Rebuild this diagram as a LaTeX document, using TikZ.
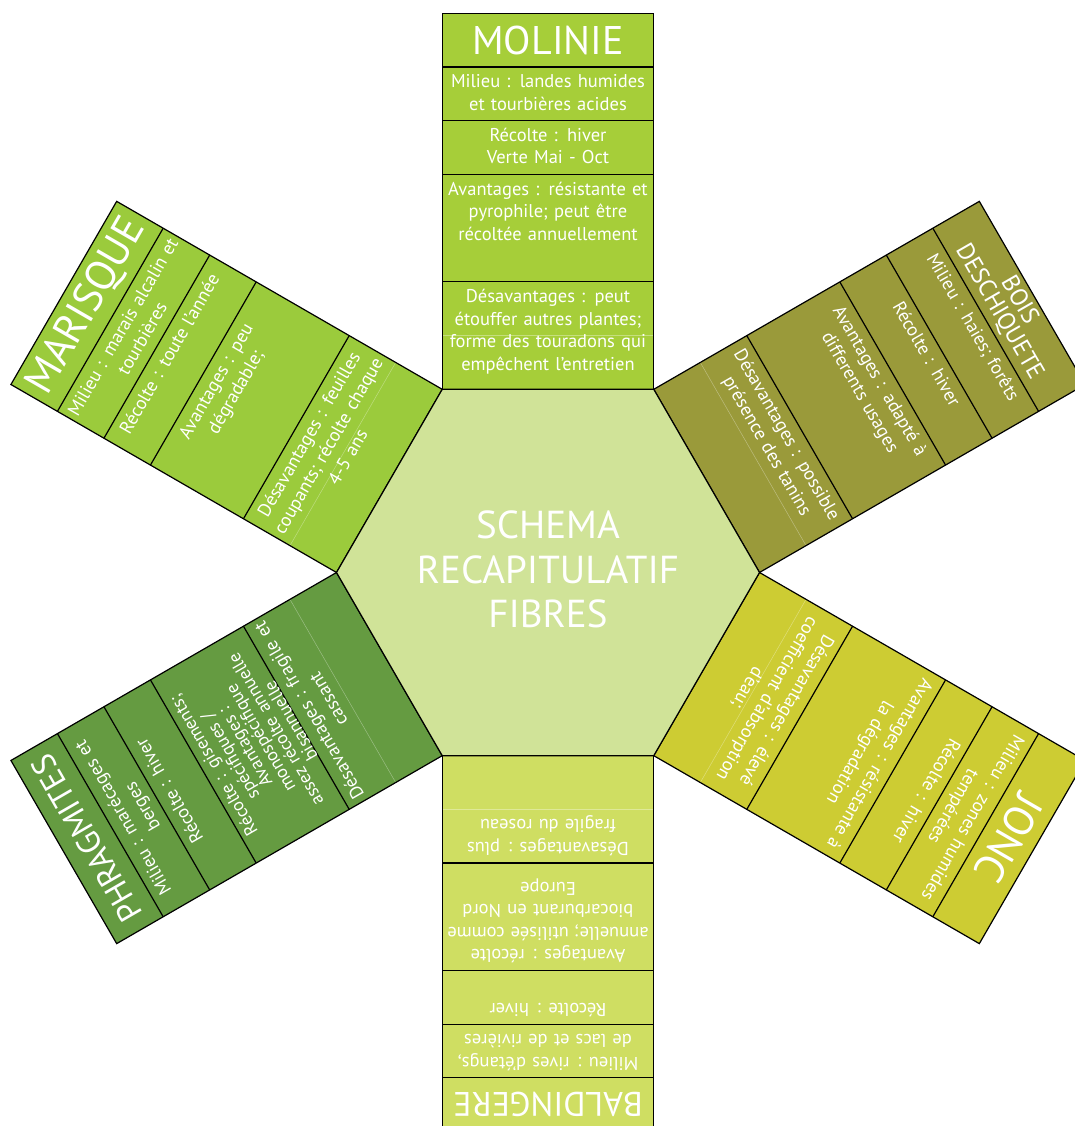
\documentclass[tikz,border=0pt]{standalone}
\usepackage{fontspec}
\setmainfont{PT Sans}
\definecolor{cMol}{RGB}{166,206,57}
\definecolor{cMar}{RGB}{155,203,60}
\definecolor{cBois}{RGB}{154,154,58}
\definecolor{cJonc}{RGB}{205,204,51}
\definecolor{cBald}{RGB}{207,222,98}
\definecolor{cPhra}{RGB}{101,155,65}
\definecolor{cHex}{RGB}{208,227,152}
\newcommand{\avfont}{\fontsize{18.5}{22.5}\selectfont}
% #1 angle, #2 colour, #3 name, #4 header font, #5 header, #6 milieu, #7 recolte, #8 avantages, #9 desavantages
\newcommand{\fibrearm}[9]{%
\begin{scope}[shift={(548,553.5)},rotate=#1]
  \fill[#2] (-105.75,183.2) rectangle (105.75,559.1);
  \draw[faint] (-105.75,236.9) -- (105.75,236.9);
  \draw[armline] (-105.75,290.6) -- (105.75,290.6);
  \draw[armline] (-105.75,398) -- (105.75,398);
  \draw[armline] (-105.75,451.7) -- (105.75,451.7);
  \draw[armline] (-105.75,505.4) -- (105.75,505.4);
  \draw[armline] (-105.75,183.2) rectangle (105.75,559.1);
  \node[hdr,font=#4] (#3-h) at (0,532.25) {#5};
  \node[body] (#3-m) at (0,500.65) {\strut #6};
  \node[body] (#3-r) at (0,446.95) {\strut #7};
  \node[body,font=\avfont] (#3-a) at (0,393.25) {\strut #8};
  \node[body] (#3-d) at (0,285.85) {\strut #9};
\end{scope}}
\begin{document}
\begin{tikzpicture}[x=1pt,y=1pt,
  armline/.style={draw=black,line width=1.2pt},
  faint/.style={draw=white,opacity=0.35,line width=0.5pt},
  body/.style={text=white,align=center,text width=209pt,inner sep=0pt,anchor=north,transform shape,font=\fontsize{18.5}{22.5}\selectfont},
  hdr/.style={text=white,align=center,inner sep=0pt,anchor=center,transform shape}]
\useasboundingbox (0,0) rectangle (1075,1126);
\fill[white] (0,0) rectangle (1075,1126);

\fibrearm{0}{cMol}{mol}{\fontsize{40}{44}\selectfont}{MOLINIE}
  {Milieu : landes humides\\et tourbières acides}
  {Récolte : hiver\\Verte Mai - Oct}
  {Avantages : résistante et\\pyrophile; peut être\\récoltée annuellement}
  {Désavantages : peut\\étouffer autres plantes;\\forme des touradons qui\\empêchent l’entretien}

\fibrearm{-60}{cBois}{bois}{\fontsize{24.5}{23}\selectfont}{BOIS\\DESCHIQUETE}
  {Milieu : haies; forêts}
  {Récolte : hiver}
  {Avantages : adapté à\\differents usages}
  {Désavantages : possible\\présence des tanins}

\fibrearm{-120}{cJonc}{jonc}{\fontsize{42}{44}\selectfont}{JONC}
  {Milieu : zones humides\\tempérées}
  {Récolte : hiver}
  {Avantages : résistante à\\la dégradation}
  {Désavantages : élevé\\coefficient d’absorption\\d’eau;}

\fibrearm{180}{cBald}{bald}{\fontsize{34}{40}\selectfont}{BALDINGERE}
  {Milieu : rives d’étangs,\\de lacs et de rivières}
  {Récolte : hiver}
  {Avantages : récolte\\annuelle; utilisée comme\\biocarburant en Nord\\Europe}
  {Désavantages : plus\\fragile du roseau}

\renewcommand{\avfont}{\fontsize{18}{17.5}\selectfont}
\fibrearm{120}{cPhra}{phra}{\fontsize{33}{40}\selectfont}{PHRAGMITES}
  {Milieu : marécages et\\berges}
  {Récolte : hiver}
  {Récolte : gisements;\\spécifiques /\\Avantages : monospécifique\\assez récolte annuelle\\bisannuelle}
  {Désavantages : fragile et\\cassant}
\renewcommand{\avfont}{\fontsize{18.5}{22.5}\selectfont}

\fibrearm{60}{cMar}{mar}{\fontsize{42}{44}\selectfont}{MARISQUE}
  {Milieu : marais alcalin et\\tourbières}
  {Récolte : toute l’année}
  {Avantages : peu\\dégradable;}
  {Désavantages : feuilles\\coupants; récolte chaque\\4-5 ans}

% central hexagon
\fill[cHex] (759.5,553.5) -- (653.75,736.7) -- (442.25,736.7) -- (336.5,553.5) -- (442.25,370.3) -- (653.75,370.3) -- cycle;
\draw[armline,line join=miter] (759.5,553.5) -- (653.75,736.7) -- (442.25,736.7) -- (336.5,553.5) -- (442.25,370.3) -- (653.75,370.3) -- cycle;
\node[hdr,font=\fontsize{39}{44.5}\selectfont] (title) at (548,556.5) {SCHEMA\\RECAPITULATIF\\FIBRES};
\end{tikzpicture}
\end{document}
